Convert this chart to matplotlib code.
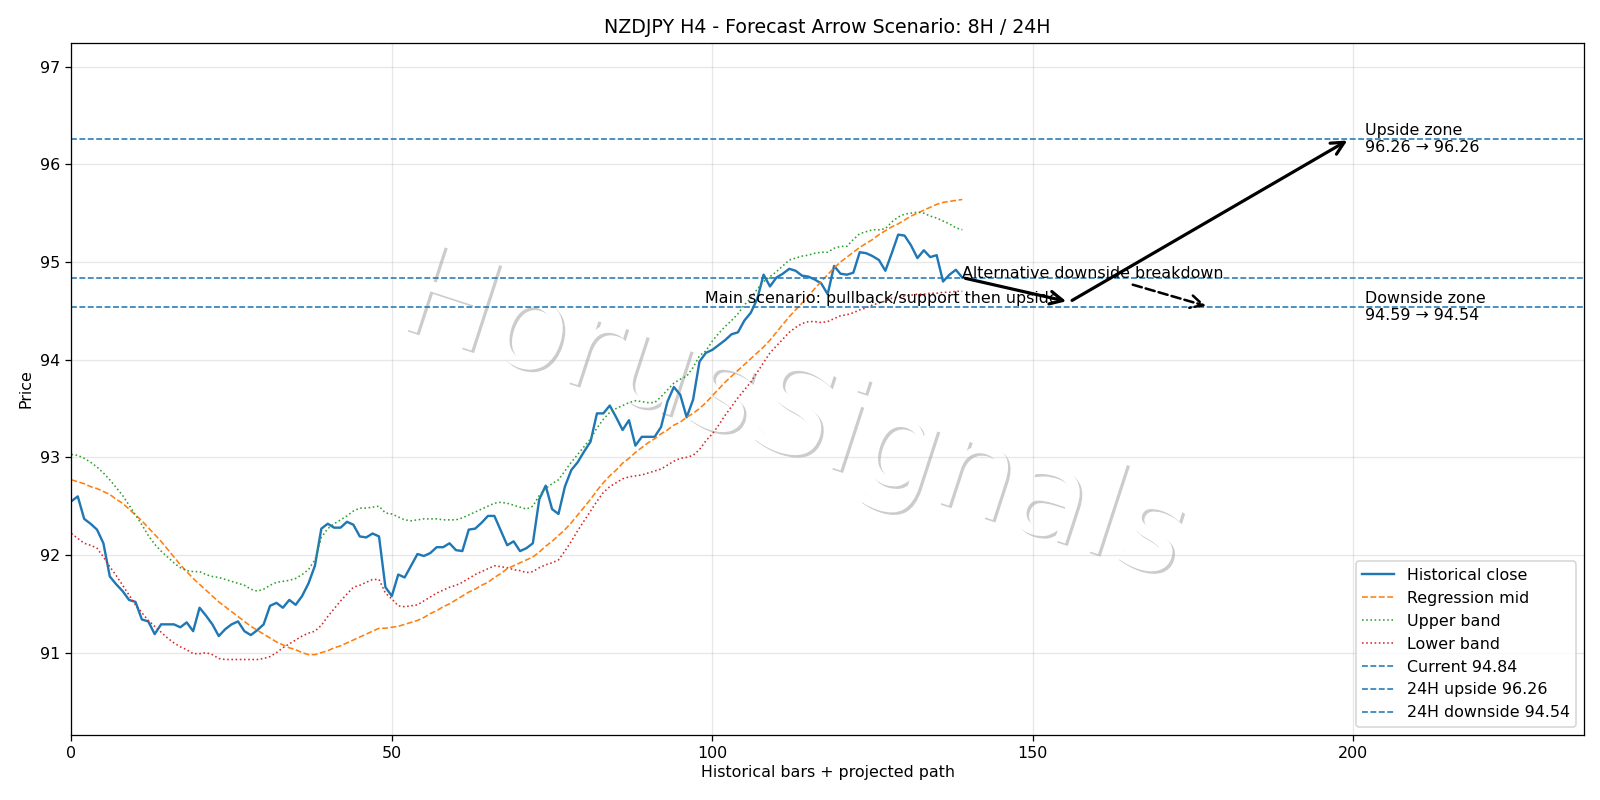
import matplotlib
matplotlib.use("Agg")
import matplotlib.pyplot as plt
import matplotlib.patheffects as pe
import numpy as np

# historical closes (H4 bars)
close = [
    92.55, 92.60, 92.37, 92.32, 92.26, 92.12, 91.78, 91.70, 91.63, 91.54,
    91.52, 91.34, 91.32, 91.19, 91.29, 91.29, 91.29, 91.26, 91.31, 91.22,
    91.46, 91.38, 91.29, 91.17, 91.24, 91.29, 91.32, 91.22, 91.18, 91.23,
    91.29, 91.48, 91.51, 91.46, 91.54, 91.49, 91.58, 91.71, 91.89, 92.27,
    92.32, 92.28, 92.28, 92.34, 92.31, 92.19, 92.18, 92.22, 92.19, 91.67,
    91.58, 91.80, 91.77, 91.89, 92.01, 91.99, 92.02, 92.08, 92.08, 92.12,
    92.05, 92.04, 92.26, 92.27, 92.33, 92.40, 92.40, 92.25, 92.10, 92.14,
    92.04, 92.07, 92.12, 92.57, 92.71, 92.47, 92.42, 92.70, 92.87, 92.95,
    93.06, 93.16, 93.45, 93.45, 93.53, 93.41, 93.28, 93.38, 93.12, 93.21,
    93.21, 93.21, 93.31, 93.57, 93.72, 93.64, 93.41, 93.59, 93.98, 94.07,
    94.10, 94.15, 94.20, 94.26, 94.28, 94.40, 94.48, 94.62, 94.87, 94.75,
    94.84, 94.88, 94.93, 94.91, 94.86, 94.85, 94.82, 94.78, 94.67, 94.96,
    94.88, 94.87, 94.89, 95.10, 95.09, 95.06, 95.02, 94.91, 95.09, 95.28,
    95.27, 95.17, 95.04, 95.12, 95.05, 95.07, 94.80, 94.87, 94.92, 94.84,
]

reg_mid = [
    92.77, 92.75, 92.73, 92.70, 92.68, 92.65, 92.62, 92.57, 92.53, 92.47,
    92.41, 92.35, 92.28, 92.21, 92.14, 92.06, 91.98, 91.90, 91.83, 91.76,
    91.70, 91.64, 91.58, 91.52, 91.47, 91.42, 91.37, 91.32, 91.27, 91.23,
    91.19, 91.15, 91.11, 91.08, 91.05, 91.03, 91.00, 90.98, 90.98, 91.00,
    91.02, 91.05, 91.07, 91.10, 91.13, 91.16, 91.19, 91.22, 91.25, 91.25,
    91.26, 91.27, 91.29, 91.31, 91.33, 91.36, 91.40, 91.43, 91.47, 91.50,
    91.54, 91.58, 91.62, 91.65, 91.69, 91.72, 91.77, 91.81, 91.86, 91.89,
    91.92, 91.95, 91.98, 92.03, 92.09, 92.14, 92.20, 92.26, 92.33, 92.41,
    92.49, 92.57, 92.66, 92.74, 92.81, 92.87, 92.94, 92.99, 93.05, 93.10,
    93.15, 93.19, 93.24, 93.28, 93.33, 93.36, 93.41, 93.45, 93.50, 93.56,
    93.63, 93.70, 93.77, 93.83, 93.89, 93.95, 94.01, 94.07, 94.13, 94.20,
    94.28, 94.36, 94.44, 94.51, 94.58, 94.65, 94.73, 94.80, 94.87, 94.94,
    95.00, 95.05, 95.10, 95.15, 95.19, 95.23, 95.28, 95.32, 95.36, 95.39,
    95.43, 95.47, 95.50, 95.53, 95.56, 95.59, 95.61, 95.62, 95.63, 95.64,
]

upper = [
    93.03, 93.02, 92.99, 92.95, 92.90, 92.84, 92.77, 92.69, 92.61, 92.51,
    92.41, 92.31, 92.20, 92.11, 92.04, 91.98, 91.92, 91.87, 91.84, 91.83,
    91.83, 91.80, 91.78, 91.77, 91.75, 91.73, 91.71, 91.69, 91.65, 91.63,
    91.65, 91.69, 91.72, 91.73, 91.74, 91.76, 91.80, 91.85, 91.95, 92.18,
    92.27, 92.32, 92.36, 92.40, 92.45, 92.48, 92.48, 92.49, 92.50, 92.43,
    92.42, 92.39, 92.36, 92.35, 92.36, 92.37, 92.37, 92.37, 92.36, 92.36,
    92.36, 92.38, 92.41, 92.44, 92.47, 92.50, 92.53, 92.54, 92.53, 92.51,
    92.49, 92.47, 92.50, 92.61, 92.68, 92.73, 92.77, 92.86, 92.95, 93.03,
    93.11, 93.19, 93.30, 93.39, 93.46, 93.50, 93.53, 93.56, 93.58, 93.57,
    93.56, 93.56, 93.62, 93.69, 93.76, 93.80, 93.83, 93.92, 94.04, 94.09,
    94.19, 94.27, 94.34, 94.40, 94.47, 94.56, 94.63, 94.72, 94.80, 94.85,
    94.90, 94.96, 95.02, 95.04, 95.06, 95.07, 95.09, 95.10, 95.10, 95.14,
    95.16, 95.16, 95.23, 95.29, 95.31, 95.33, 95.33, 95.34, 95.41, 95.46,
    95.49, 95.50, 95.51, 95.50, 95.47, 95.45, 95.42, 95.39, 95.35, 95.33,
]

lower = [
    92.22, 92.17, 92.12, 92.10, 92.07, 91.98, 91.88, 91.79, 91.69, 91.59,
    91.49, 91.41, 91.33, 91.27, 91.21, 91.15, 91.10, 91.06, 91.03, 90.99,
    90.99, 91.00, 90.98, 90.94, 90.93, 90.93, 90.93, 90.93, 90.93, 90.93,
    90.94, 90.96, 91.00, 91.05, 91.09, 91.13, 91.17, 91.20, 91.22, 91.28,
    91.37, 91.45, 91.53, 91.60, 91.67, 91.69, 91.72, 91.75, 91.75, 91.61,
    91.55, 91.48, 91.47, 91.48, 91.49, 91.53, 91.57, 91.61, 91.64, 91.67,
    91.69, 91.72, 91.76, 91.80, 91.83, 91.86, 91.89, 91.88, 91.87, 91.85,
    91.84, 91.82, 91.83, 91.87, 91.90, 91.92, 91.95, 92.04, 92.14, 92.25,
    92.35, 92.45, 92.55, 92.64, 92.70, 92.74, 92.78, 92.80, 92.81, 92.82,
    92.84, 92.86, 92.88, 92.92, 92.96, 92.99, 93.00, 93.02, 93.08, 93.17,
    93.24, 93.33, 93.43, 93.52, 93.61, 93.69, 93.77, 93.87, 93.97, 94.07,
    94.14, 94.21, 94.28, 94.33, 94.37, 94.39, 94.39, 94.38, 94.39, 94.42,
    94.45, 94.46, 94.48, 94.51, 94.53, 94.56, 94.58, 94.60, 94.63, 94.64,
    94.65, 94.66, 94.67, 94.67, 94.68, 94.68, 94.69, 94.69, 94.70, 94.70,
]

current = 94.84
up_24h = 96.26
down_24h = 94.54
target_8h = 94.59

# projected path x positions
x_last = 139
x_8h = 155.7
x_24h = 199.5
x_alt = 177.5
x_zone = 201.8

fig, ax = plt.subplots(figsize=(14, 7), dpi=1600 / 14)
fig.subplots_adjust(left=0.0446, right=0.99, top=0.946, bottom=0.0816)

x = np.arange(len(close))
ax.plot(x, close, color="C0", lw=1.5, label="Historical close")
ax.plot(x, reg_mid, color="C1", lw=1, ls="--", label="Regression mid")
ax.plot(x, upper, color="C2", lw=1, ls=":", label="Upper band")
ax.plot(x, lower, color="C3", lw=1, ls=":", label="Lower band")

ax.axhline(current, color="C0", lw=1, ls="--", label=f"Current {current:.2f}")
ax.axhline(up_24h, color="C0", lw=1, ls="--", label=f"24H upside {up_24h:.2f}")
ax.axhline(down_24h, color="C0", lw=1, ls="--", label=f"24H downside {down_24h:.2f}")

# main scenario arrows
arrow_kw = dict(arrowstyle="->", lw=2, color="black", mutation_scale=20)
ax.annotate("", xy=(x_8h, target_8h), xytext=(x_last, current), arrowprops=arrow_kw)
ax.annotate("", xy=(x_24h, up_24h), xytext=(x_8h, target_8h), arrowprops=arrow_kw)
ax.text(x_8h - 1.6, target_8h - 0.005, "Main scenario: pullback/support then upside",
        ha="right", va="baseline")

# alternative scenario
ax.annotate("Alternative downside breakdown", xy=(x_alt, down_24h), xytext=(x_last, current),
            arrowprops=dict(arrowstyle="->", lw=1.6, ls="--", color="black", mutation_scale=20))

ax.text(x_zone, up_24h, f"Upside zone\n{up_24h:.2f} \u2192 {up_24h:.2f}", ha="left", va="center")
ax.text(x_zone, down_24h, f"Downside zone\n{target_8h:.2f} \u2192 {down_24h:.2f}", ha="left", va="center")

# watermark
ax.text(0.477, 0.457, "HorusSignals", transform=ax.transAxes, fontsize=79, color="white",
        rotation=-18, ha="center", va="center", zorder=0,
        path_effects=[pe.withSimplePatchShadow(offset=(1.6, -1.6), shadow_rgbFace="black", alpha=0.2)])

ax.set_xlim(0, 236)
ax.set_ylim(90.16, 97.24)
ax.grid(True, alpha=0.3)
ax.set_title("NZDJPY H4 - Forecast Arrow Scenario: 8H / 24H", pad=6.5)
ax.set_xlabel("Historical bars + projected path", labelpad=2.5)
ax.set_ylabel("Price")
ax.legend(loc="lower right")

fig.savefig("out.png", dpi=1600 / 14)
